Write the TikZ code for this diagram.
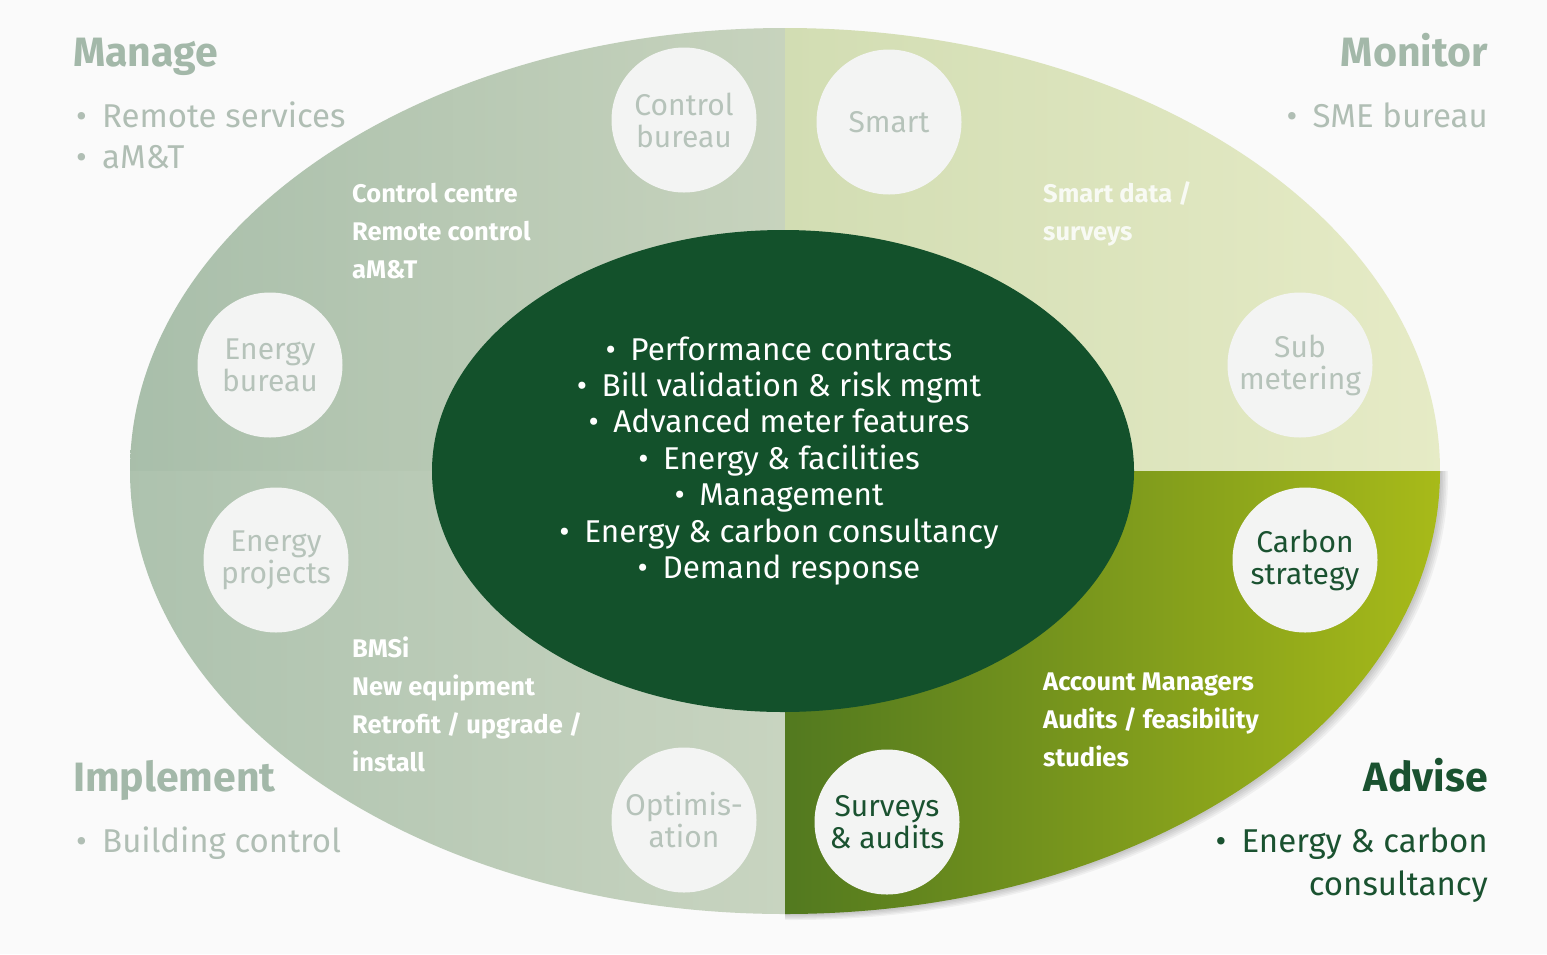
\documentclass[tikz,border=0pt]{standalone}
\usepackage{fontspec}
\setmainfont{Fira Sans}
\newcommand{\bu}{•\hspace{0.2em} }
\definecolor{bg}{HTML}{FAFAFA}
\definecolor{tlL}{HTML}{A8BEAA}
\definecolor{tlR}{HTML}{C7D3BD}
\definecolor{blL}{HTML}{ADC2AE}
\definecolor{blR}{HTML}{C8D4C0}
\definecolor{trL}{HTML}{D2DDB3}
\definecolor{trR}{HTML}{E6EBC6}
\definecolor{brL}{HTML}{52791F}
\definecolor{brM}{HTML}{9DB41C}
\definecolor{brR}{HTML}{A9BB19}
\definecolor{core}{HTML}{13512B}
\definecolor{headgray}{HTML}{A3B8A9}
\definecolor{bulgray}{HTML}{B0BEB4}
\definecolor{bubtext}{HTML}{B6C3BA}
\definecolor{bubfill}{HTML}{F3F4F3}
\definecolor{dkgreen}{HTML}{1A5230}
\tikzset{
  head/.style={inner sep=0pt, font=\fontsize{41}{44}\selectfont\bfseries, text=headgray},
  sidebul/.style={inner sep=0pt, font=\fontsize{33}{40}\selectfont, text=bulgray},
  qlabel/.style={inner sep=0pt, anchor=base west, font=\fontsize{25.5}{28}\selectfont\bfseries, text=white},
  coretext/.style={inner sep=0pt, anchor=base, font=\fontsize{31.5}{34}\selectfont, text=white},
  bubble/.style={circle, fill=bubfill, minimum size=145pt, inner sep=0pt, align=center,
     font=\fontsize{30}{32}\selectfont, text=bubtext},
  darkbubble/.style={bubble, text=dkgreen}
}
\begin{document}
\begin{tikzpicture}[x=1pt,y=-1pt]
\fill[bg] (0,0) rectangle (1547,954);
% soft shadow on lower right
\begin{scope}
  \clip (785,471) rectangle (1547,954);
  \foreach \d in {2,4,6,8,10}
    \fill[black,opacity=0.045] (785+\d*0.8,471+\d*0.6) ellipse [x radius=655, y radius=443];
\end{scope}
% quadrants
\begin{scope}
  \clip (785,471) ellipse [x radius=655, y radius=443];
  \shade[left color=tlL, right color=tlR] (120,20) rectangle (785,471);
  \shade[left color=trL, right color=trR] (785,20) rectangle (1450,471);
  \shade[left color=blL, right color=blR] (120,471) rectangle (785,925);
  \shade[left color=brL, middle color=brM, right color=brR] (785,471) rectangle (1450,925);
\end{scope}
% core
\fill[core] (783,471) ellipse [x radius=351, y radius=241];
% bubbles
\node[bubble] (cb) at (684,120) {Control\\bureau};
\node[bubble] (sm) at (889,122) {Smart};
\node[bubble] (eb) at (270,365) {Energy\\bureau};
\node[bubble] (sub) at (1300,365) {Sub\\metering};
\node[bubble] (ep) at (276,560) {Energy\\projects};
\node[darkbubble] (cs) at (1305,560) {Carbon\\strategy};
\node[bubble] (op) at (684,820) {Optimis-\\ation};
\node[darkbubble] (sa) at (887,822) {Surveys\\\& audits};
% headings
\node[head, anchor=base west] (hman) at (73,66) {Manage};
\node[head, anchor=base east] (hmon) at (1488,66) {Monitor};
\node[head, anchor=base west] (himp) at (73,791) {Implement};
\node[head, anchor=base east, text=dkgreen] (hadv) at (1488,791) {Advise};
% side bullets
\node[sidebul, anchor=base west] (b1) at (76,127) {\bu Remote services};
\node[sidebul, anchor=base west] (b2) at (76,168) {\bu aM\&T};
\node[sidebul, anchor=base east] (b3) at (1488,127) {\bu SME bureau};
\node[sidebul, anchor=base west] (b4) at (76,852) {\bu Building control};
\node[sidebul, anchor=base east, text=dkgreen] (b5) at (1488,852) {\bu Energy \& carbon};
\node[sidebul, anchor=base east, text=dkgreen] (b6) at (1488,895) {consultancy};
% quadrant labels
\node[qlabel] (q1) at (352,202) {Control centre};
\node[qlabel] (q2) at (352,240) {Remote control};
\node[qlabel] (q3) at (352,278) {aM\&T};
\node[qlabel, text=white!85!trL] (q4) at (1043,202) {Smart data /};
\node[qlabel, text=white!85!trL] (q5) at (1043,240) {surveys};
\node[qlabel] (q6) at (352,657) {BMSi};
\node[qlabel] (q7) at (352,695) {New equipment};
\node[qlabel] (q8) at (352,733) {Retrofit / upgrade /};
\node[qlabel] (q9) at (352,771) {install};
\node[qlabel] (q10) at (1043,690) {Account Managers};
\node[qlabel] (q11) at (1043,728) {Audits / feasibility};
\node[qlabel] (q12) at (1043,766) {studies};
% core text
\node[coretext] (c1) at (779,360) {\bu Performance contracts};
\node[coretext] (c2) at (779,396) {\bu Bill validation \& risk mgmt};
\node[coretext] (c3) at (779,432) {\bu Advanced meter features};
\node[coretext] (c4) at (779,469) {\bu Energy \& facilities};
\node[coretext] (c5) at (779,505) {\bu Management};
\node[coretext] (c6) at (779,542) {\bu Energy \& carbon consultancy};
\node[coretext] (c7) at (779,578) {\bu Demand response};
\end{tikzpicture}
\end{document}
